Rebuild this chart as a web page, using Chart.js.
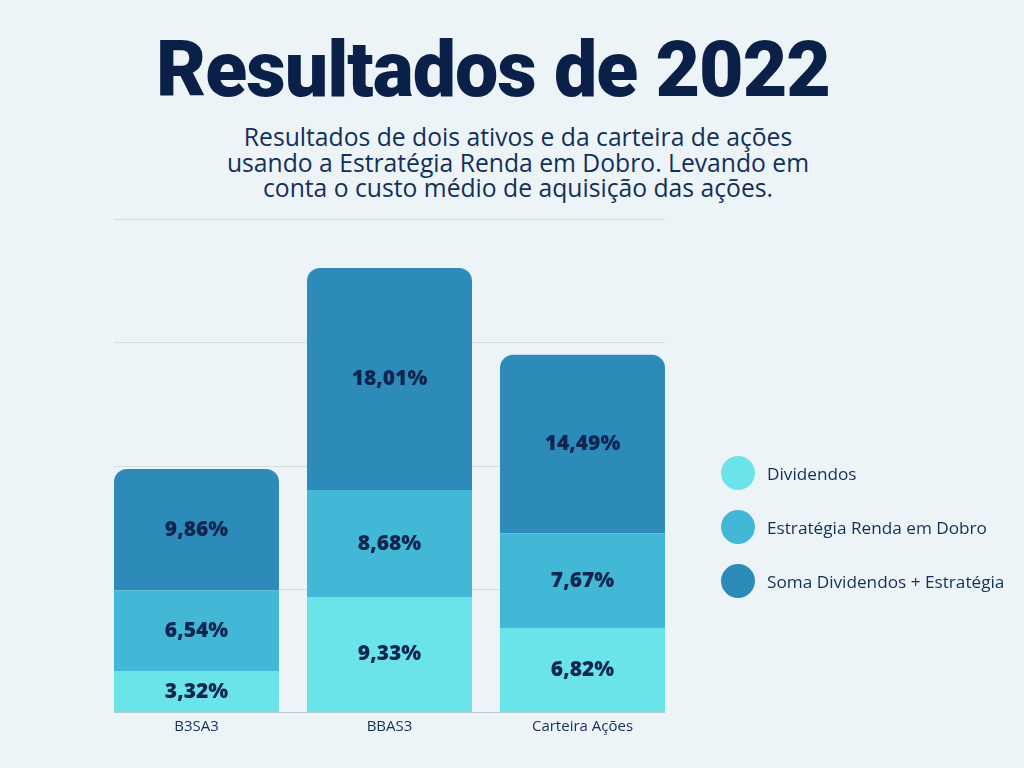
<!DOCTYPE html>
<html>
<head>
<meta charset="utf-8">
<script src="https://cdn.jsdelivr.net/npm/chart.js@4/dist/chart.umd.min.js"></script>
<style>
  html, body { margin:0; padding:0; background:#edf4f7; }
  #wrap { position:relative; width:1024px; height:768px; overflow:hidden; background:#edf4f7; }
  #title { position:absolute; left:0; width:986px; top:24px; text-align:center;
    font-family:Roboto, sans-serif; font-weight:900; font-size:77px; line-height:92px; color:#0b2048; letter-spacing:-1px; }
  #sub { position:absolute; left:218px; width:600px; top:124px; text-align:center;
    font-family:"Open Sans", sans-serif; font-size:24.7px; line-height:25.5px; color:#13305a; }
  #legend { position:absolute; left:721px; top:456px; font-family:"Open Sans", sans-serif; font-size:17.2px; color:#13305a; }
  .li { display:flex; align-items:center; height:34px; margin-bottom:20px; }
  .dot { width:34px; height:34px; border-radius:50%; margin-right:12px; flex:none; }
  canvas { position:absolute; left:0; top:0; }
</style>
</head>
<body>
<div id="wrap">
  <div id="title">Resultados de 2022</div>
  <div id="sub">Resultados de dois ativos e da carteira de ações<br>usando a Estratégia Renda em Dobro. Levando em<br>conta o custo médio de aquisição das ações.</div>
  <canvas id="c" width="1024" height="768"></canvas>
  <div id="legend"></div>
</div>
<script>
const categories = ['B3SA3', 'BBAS3', 'Carteira Ações'];
const seriesNames = ['Dividendos', 'Estratégia Renda em Dobro', 'Soma Dividendos + Estratégia'];
const dividendos = [3.32, 9.33, 6.82];
const estrategia = [6.54, 8.68, 7.67];
const soma = [9.86, 18.01, 14.49];
const colors = ['#6ae4e9', '#42b7d6', '#2d8bba'];
const yTicks = [0, 10, 20, 30, 40];

const gridPlugin = {
  id: 'customGrid',
  beforeDatasetsDraw(chart) {
    const ctx = chart.ctx;
    const metas = chart.getSortedVisibleDatasetMetas();
    const bars = metas[0].data;
    const first = bars[0], last = bars[bars.length - 1];
    const left = first.x - first.width / 2;
    const right = last.x + last.width / 2;
    const y = chart.scales.y;
    ctx.save();
    ctx.lineWidth = 1;
    yTicks.forEach(t => {
      const py = Math.round(y.getPixelForValue(t)) + 0.5;
      ctx.strokeStyle = t === 0 ? '#b9c7cf' : '#d3dde2';
      ctx.beginPath(); ctx.moveTo(left, py); ctx.lineTo(right, py); ctx.stroke();
    });
    ctx.restore();
  }
};

const labelPlugin = {
  id: 'barLabels',
  afterDatasetsDraw(chart) {
    const ctx = chart.ctx;
    ctx.save();
    ctx.font = '800 21px "Open Sans", sans-serif';
    ctx.fillStyle = '#0d2650';
    ctx.textAlign = 'center';
    ctx.textBaseline = 'middle';
    chart.getSortedVisibleDatasetMetas().forEach(meta => {
      const ds = chart.data.datasets[meta.index];
      meta.data.forEach((bar, i) => {
        const v = ds.data[i];
        const cy = (bar.y + bar.base) / 2;
        ctx.fillText(v.toFixed(2).replace('.', ',') + '%', bar.x, cy);
      });
    });
    ctx.restore();
  }
};

const chart = new Chart(document.getElementById('c'), {
  type: 'bar',
  data: {
    labels: categories,
    datasets: [
      { label: seriesNames[0], data: dividendos, backgroundColor: colors[0], borderRadius: 0 },
      { label: seriesNames[1], data: estrategia, backgroundColor: colors[1], borderRadius: 0 },
      { label: seriesNames[2], data: soma, backgroundColor: colors[2],
        borderRadius: { topLeft: 13, topRight: 13, bottomLeft: 0, bottomRight: 0 }, borderSkipped: 'start' }
    ]
  },
  options: {
    responsive: false,
    animation: false,
    layout: { padding: { left: 100, right: 345, top: 219, bottom: 26 } },
    datasets: { bar: { categoryPercentage: 1, barPercentage: 0.855 } },
    plugins: { legend: { display: false }, tooltip: { enabled: false } },
    scales: {
      x: {
        stacked: true,
        grid: { display: false, drawTicks: false },
        border: { display: false },
        ticks: { color: '#13305a', font: { family: '"Open Sans", sans-serif', size: 15 }, padding: 6 }
      },
      y: {
        stacked: true,
        min: 0, max: 40,
        display: false
      }
    }
  },
  plugins: [gridPlugin, labelPlugin]
});

const leg = document.getElementById('legend');
chart.data.datasets.forEach(ds => {
  const d = document.createElement('div'); d.className = 'li';
  const dot = document.createElement('span'); dot.className = 'dot'; dot.style.background = ds.backgroundColor;
  const t = document.createElement('span'); t.textContent = ds.label;
  d.appendChild(dot); d.appendChild(t); leg.appendChild(d);
});
</script>
</body>
</html>
